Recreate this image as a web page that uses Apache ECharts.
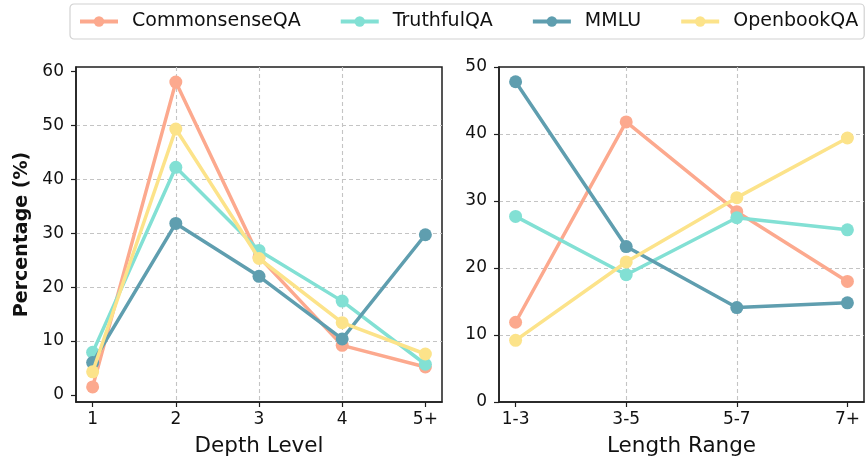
<!DOCTYPE html>
<html>
<head>
<meta charset="utf-8">
<script src="https://cdn.jsdelivr.net/npm/echarts@6/dist/echarts.min.js"></script>
<style>
html,body{margin:0;padding:0;background:#fff;}
#c{width:868px;height:464px;}
</style>
</head>
<body>
<div id="c"></div>
<script>
const seriesNames = ['CommonsenseQA', 'TruthfulQA', 'MMLU', 'OpenbookQA'];
const colors = ['#FCA98E', '#82E0D4', '#5F9EAF', '#FCE38A'];

const depthCats = ['1', '2', '3', '4', '5+'];
const depthCommonsense = [1.5, 58.0, 25.6, 9.2, 5.2];
const depthTruthful = [7.9, 42.2, 26.8, 17.4, 5.7];
const depthMMLU = [6.0, 31.8, 22.0, 10.4, 29.7];
const depthOpenbook = [4.3, 49.3, 25.3, 13.4, 7.6];

const lenCats = ['1-3', '3-5', '5-7', '7+'];
const lenCommonsense = [11.9, 41.8, 28.4, 18.0];
const lenTruthful = [27.7, 19.0, 27.5, 25.7];
const lenMMLU = [47.8, 23.2, 14.1, 14.8];
const lenOpenbook = [9.2, 20.9, 30.5, 39.4];

const depthTicks = [0, 10, 20, 30, 40, 50, 60];
const lenTicks = [0, 10, 20, 30, 40, 50];

const FONT = 'DejaVu Sans';
const INK = '#111';
const FRAME = '#1e1e1e';

const depthSets = [depthCommonsense, depthTruthful, depthMMLU, depthOpenbook];
const lenSets = [lenCommonsense, lenTruthful, lenMMLU, lenOpenbook];

function mk(name, idx, arr, gi) {
  return {
    name: name,
    type: 'line',
    xAxisIndex: gi, yAxisIndex: gi,
    data: arr.map((v, i) => [i, v]),
    symbol: 'circle',
    symbolSize: 13,
    color: colors[idx],
    lineStyle: { width: 3.5, color: colors[idx] },
    itemStyle: { color: colors[idx] },
    emphasis: { disabled: true },
    z: 2 + idx,
    animation: false
  };
}

const series = [];
seriesNames.forEach((n, i) => series.push(mk(n, i, depthSets[i], 0)));
seriesNames.forEach((n, i) => series.push(mk(n, i, lenSets[i], 1)));

const splitLine = { show: true, showMinLine: false, showMaxLine: false, lineStyle: { color: '#c4c4c4', width: 1.1, type: [4, 3] } };
const tick = { show: true, inside: false, length: 5, lineStyle: { color: FRAME, width: 1.2 } };
const axisLine = { show: true, onZero: false, lineStyle: { color: FRAME, width: 1.5 } };
const lbl = { color: INK, fontSize: 17, fontFamily: FONT };

const option = {
  backgroundColor: '#fff',
  animation: false,
  legend: {
    data: seriesNames,
    left: 70, top: 4,
    width: 800,
    padding: [8, 6, 8, 8],
    itemGap: 38,
    itemWidth: 38,
    itemHeight: 13,
    lineStyle: { width: 4 },
    borderColor: '#d2d2d2',
    borderWidth: 1.2,
    borderRadius: 4,
    textStyle: { fontSize: 19, fontFamily: FONT, color: INK, padding: [0, 0, 0, 9] }
  },
  grid: [
    { left: 76, top: 67, width: 366, height: 335, show: true, borderColor: FRAME, borderWidth: 1.5, backgroundColor: 'transparent' },
    { left: 499, top: 67, width: 365, height: 335, show: true, borderColor: FRAME, borderWidth: 1.5, backgroundColor: 'transparent' }
  ],
  xAxis: [
    {
      type: 'value', gridIndex: 0, min: -0.2, max: 4.2,
      axisLine: axisLine,
      axisTick: Object.assign({}, tick, { customValues: [0, 1, 2, 3, 4] }),
      axisLabel: Object.assign({}, lbl, { margin: 9, customValues: [0, 1, 2, 3, 4], formatter: v => depthCats[Math.round(v)] }),
      splitLine: splitLine,
      name: 'Depth Level', nameLocation: 'middle', nameGap: 33,
      nameTextStyle: { fontSize: 21.5, fontFamily: FONT, color: INK }
    },
    {
      type: 'value', gridIndex: 1, min: -0.15, max: 3.15,
      axisLine: axisLine,
      axisTick: Object.assign({}, tick, { customValues: [0, 1, 2, 3] }),
      axisLabel: Object.assign({}, lbl, { margin: 9, customValues: [0, 1, 2, 3], formatter: v => lenCats[Math.round(v)] }),
      splitLine: splitLine,
      name: 'Length Range', nameLocation: 'middle', nameGap: 33,
      nameTextStyle: { fontSize: 21.5, fontFamily: FONT, color: INK }
    }
  ],
  yAxis: [
    {
      type: 'value', gridIndex: 0, min: -1.3, max: 60.8,
      axisLine: axisLine,
      axisTick: Object.assign({}, tick, { customValues: depthTicks }),
      axisLabel: Object.assign({}, lbl, { margin: 12, customValues: depthTicks }),
      splitLine: splitLine,
      name: 'Percentage (%)', nameLocation: 'middle', nameGap: 44, nameRotate: 90,
      nameTextStyle: { fontSize: 19, fontWeight: 'bold', fontFamily: FONT, color: INK }
    },
    {
      type: 'value', gridIndex: 1, min: 0, max: 50, interval: 10,
      axisLine: axisLine,
      axisTick: Object.assign({}, tick, { customValues: lenTicks }),
      axisLabel: Object.assign({}, lbl, { margin: 12, customValues: lenTicks }),
      splitLine: splitLine
    }
  ],
  series: series
};

const chart = echarts.init(document.getElementById('c'), null, { renderer: 'canvas' });
chart.setOption(option);
</script>
</body>
</html>
